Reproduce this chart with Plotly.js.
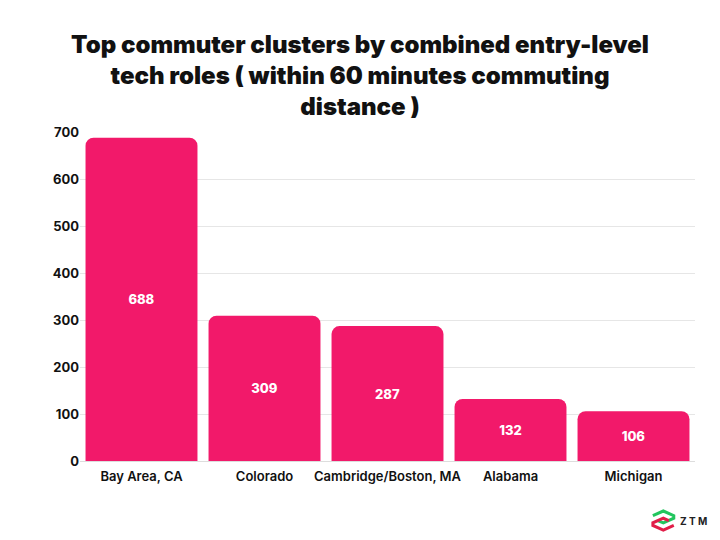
<!DOCTYPE html>
<html><head><meta charset="utf-8">
<script src="https://cdn.plot.ly/plotly-3.0.1.min.js"></script>
<style>body{margin:0;background:#fff}#c{width:720px;height:540px}</style>
</head><body><div id="c"></div>
<script>
const categories = ["Bay Area, CA", "Colorado", "Cambridge/Boston, MA", "Alabama", "Michigan"];
const values = [688, 309, 287, 132, 106];
const yTicks = [0, 100, 200, 300, 400, 500, 600, 700];
const titleText = "Top commuter clusters by combined entry-level<br>tech roles ( within 60 minutes commuting<br>distance )";

const trace = {
  type: "bar",
  x: categories,
  y: values,
  text: values.map(String),
  textposition: "inside",
  insidetextanchor: "middle",
  textfont: {family: "Inter, Roboto, sans-serif", size: 13, color: "#ffffff", weight: 800},
  marker: {color: "#F2196A", cornerradius: 8, line: {width: 0}},
  hoverinfo: "none"
};

const layout = {
  width: 720, height: 540,
  paper_bgcolor: "#ffffff", plot_bgcolor: "#ffffff",
  margin: {l: 80, r: 25, t: 132, b: 79},
  bargap: 0.09,
  showlegend: false,
  title: {
    text: titleText,
    x: 0.5, xanchor: "center", y: 0.902, yanchor: "top",
    font: {family: "Inter, Roboto, sans-serif", size: 24, color: "#111111", weight: 900}
  },
  xaxis: {
    tickfont: {family: "Inter, Roboto, sans-serif", size: 13, color: "#111111", weight: 600},
    ticklabelstandoff: 6,
    showgrid: false, showline: false, ticks: "", zeroline: false, automargin: false
  },
  yaxis: {
    range: [0, 700], tickvals: yTicks,
    tickfont: {family: "Inter, Roboto, sans-serif", size: 13, color: "#111111", weight: 700},
    showgrid: true, gridcolor: "#e6e6e6", gridwidth: 1,
    zeroline: true, zerolinecolor: "#dddddd", zerolinewidth: 1,
    ticks: "", ticklen: 0, showline: false, automargin: false
  },
  shapes: [
    {type: "path", xref: "paper", yref: "paper",
     path: "M 0.9315 -0.166 L 0.9485 -0.152 L 0.9655 -0.166 L 0.9655 -0.174 L 0.9485 -0.188 L 0.9395 -0.181",
     line: {color: "#22c55e", width: 3}},
    {type: "path", xref: "paper", yref: "paper",
     path: "M 0.9655 -0.196 L 0.9485 -0.210 L 0.9315 -0.196 L 0.9315 -0.188 L 0.9485 -0.174 L 0.9575 -0.181",
     line: {color: "#e11d48", width: 3}}
  ],
  annotations: [
    {text: "Z T M", xref: "paper", yref: "paper", x: 0.972, y: -0.181, xanchor: "left", yanchor: "middle",
     showarrow: false, font: {family: "Inter, Roboto, sans-serif", size: 10, color: "#222222", weight: 700}}
  ]
};

Plotly.newPlot("c", [trace], layout, {displayModeBar: false, staticPlot: true});
</script></body></html>
